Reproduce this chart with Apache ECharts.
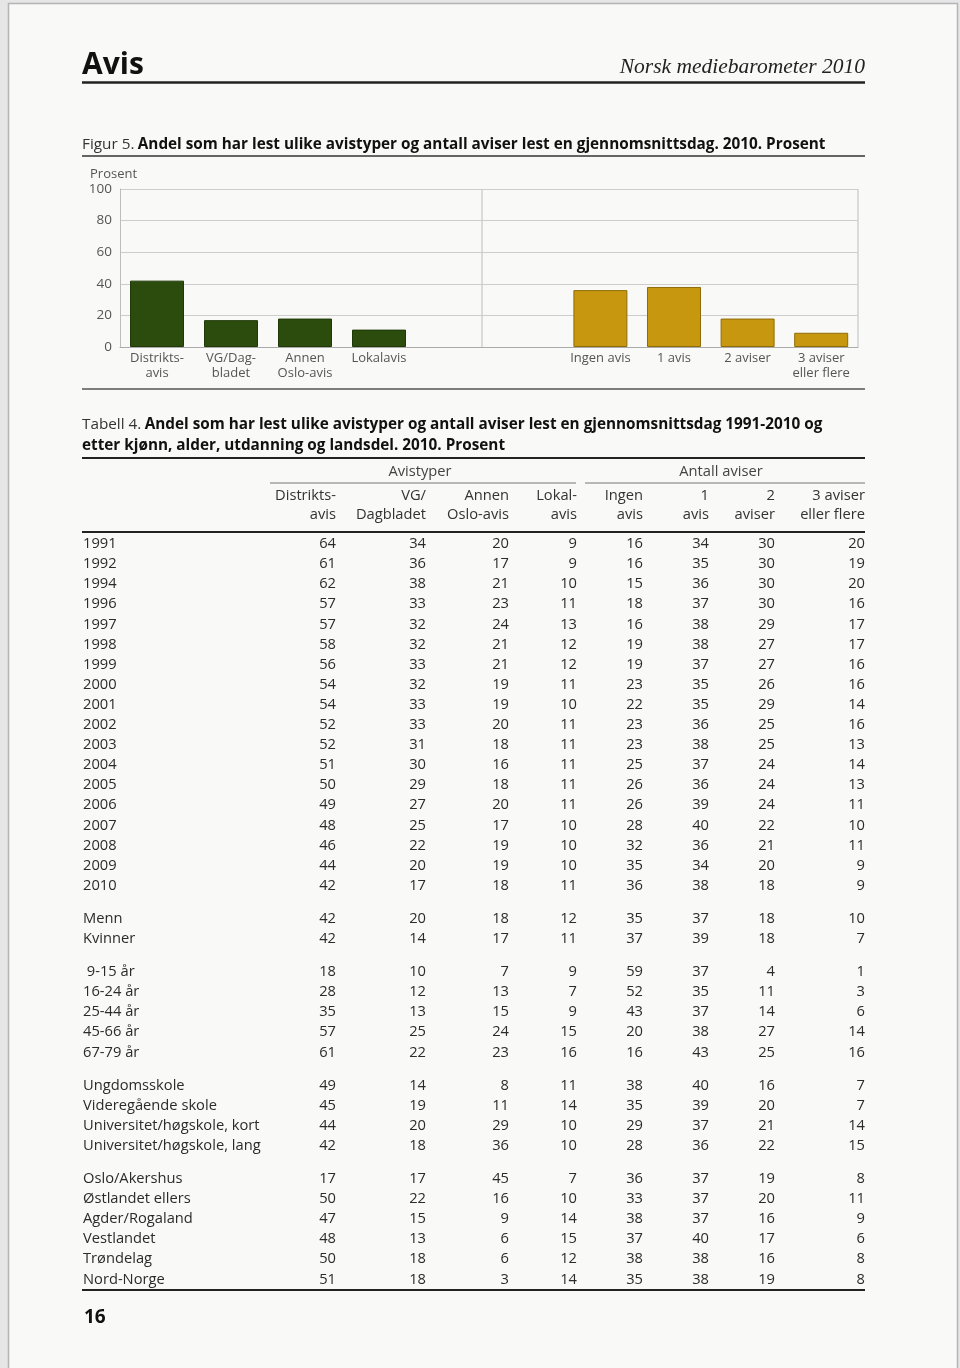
<!DOCTYPE html>
<html><head><meta charset="utf-8">
<script src="https://cdn.jsdelivr.net/npm/echarts@6/dist/echarts.min.js"></script>
<style>html,body{margin:0;padding:0;background:#e6e6e6}#c{width:960px;height:1368px}</style>
</head><body><div id="c"></div>
<script>
// ---- Figure 5 data (2010) ----
const typeCategories = ['Distrikts-\navis', 'VG/Dag-\nbladet', 'Annen\nOslo-avis', 'Lokalavis'];
const typeValues = [42, 17, 18, 11];
const countCategories = ['Ingen avis', '1 avis', '2 aviser', '3 aviser\neller flere'];
const countValues = [36, 38, 18, 9];
const yTicks = [0, 20, 40, 60, 80, 100];

// ---- Tabell 4 data ----
const colHead1 = ['Distrikts-', 'VG/', 'Annen', 'Lokal-', 'Ingen', '1', '2', '3 aviser'];
const colHead2 = ['avis', 'Dagbladet', 'Oslo-avis', 'avis', 'avis', 'avis', 'aviser', 'eller flere'];
const rowLabels = ['1991','1992','1994','1996','1997','1998','1999','2000','2001','2002','2003','2004','2005','2006','2007','2008','2009','2010',
  'Menn','Kvinner',
  ' 9-15 år','16-24 år','25-44 år','45-66 år','67-79 år',
  'Ungdomsskole','Videregående skole','Universitet/høgskole, kort','Universitet/høgskole, lang',
  'Oslo/Akershus','Østlandet ellers','Agder/Rogaland','Vestlandet','Trøndelag','Nord-Norge'];
const groupSizes = [18, 2, 5, 4, 6];
const colDistrikts = [64,61,62,57,57,58,56,54,54,52,52,51,50,49,48,46,44,42, 42,42, 18,28,35,57,61, 49,45,44,42, 17,50,47,48,50,51];
const colVG        = [34,36,38,33,32,32,33,32,33,33,31,30,29,27,25,22,20,17, 20,14, 10,12,13,25,22, 14,19,20,18, 17,22,15,13,18,18];
const colAnnen     = [20,17,21,23,24,21,21,19,19,20,18,16,18,20,17,19,19,18, 18,17, 7,13,15,24,23, 8,11,29,36, 45,16,9,6,6,3];
const colLokal     = [9,9,10,11,13,12,12,11,10,11,11,11,11,11,10,10,10,11, 12,11, 9,7,9,15,16, 11,14,10,10, 7,10,14,15,12,14];
const colIngen     = [16,16,15,18,16,19,19,23,22,23,23,25,26,26,28,32,35,36, 35,37, 59,52,43,20,16, 38,35,29,28, 36,33,38,37,38,35];
const colEn        = [34,35,36,37,38,38,37,35,35,36,38,37,36,39,40,36,34,38, 37,39, 37,35,37,38,43, 40,39,37,36, 37,37,37,40,38,38];
const colTo        = [30,30,30,30,29,27,27,26,29,25,25,24,24,24,22,21,20,18, 18,18, 4,11,14,27,25, 16,20,21,22, 19,20,16,17,16,19];
const colTre       = [20,19,20,16,17,17,16,16,14,16,13,14,13,11,10,11,9,9, 10,7, 1,3,6,14,16, 7,7,14,15, 8,11,9,6,8,8];

const FONT = '"Open Sans", "DejaVu Sans", sans-serif';
const TXT = '#2b2b2b';
const BODY = 14.7;
const g = [];
// page sheet
g.push({ type: 'rect', silent: true, z: 0, shape: { x: 8.5, y: 3.5, width: 949, height: 1370 },
  style: { fill: '#f9f9f8', stroke: '#b5b5b5', lineWidth: 1.5 } });
function text(t, x, y, o) {
  o = o || {};
  g.push({ type: 'text', silent: true, z: 10, style: Object.assign({
    text: t, x: x, y: y, fontFamily: FONT, fontSize: BODY, fill: TXT,
    align: o.align || 'left', textAlign: o.align || 'left',
    verticalAlign: 'middle', textVerticalAlign: 'middle'
  }, o.style || {}) });
}
function hline(x1, x2, y, w, c) {
  g.push({ type: 'line', silent: true, z: 5, shape: { x1: x1, y1: y, x2: x2, y2: y }, style: { stroke: c || '#333', lineWidth: w || 1 } });
}
function vline(x, y1, y2, w, c) {
  g.push({ type: 'line', silent: true, z: 5, shape: { x1: x, y1: y1, x2: x, y2: y2 }, style: { stroke: c || '#333', lineWidth: w || 1 } });
}

// page header
text('Avis', 82, 65, { style: { fontSize: 30, fontWeight: 'bold', fill: '#111' } });
text('Norsk mediebarometer 2010', 865, 67, { align: 'right', style: { fontFamily: '"Liberation Serif", serif', fontStyle: 'italic', fontSize: 21.5, fill: '#222' } });
hline(82, 865, 82.5, 2.5, '#222');

// figure title
const richTitle = { a: { fontFamily: FONT, fontSize: 15.3, fill: '#333', color: '#333', lineHeight: 21 },
                    b: { fontFamily: FONT, fontSize: 15.3, fontWeight: 'bold', fill: '#111', color: '#111', lineHeight: 21 } };
g.push({ type: 'text', silent: true, z: 10, style: {
  text: '{a|Figur 5.} {b|Andel som har lest ulike avistyper og antall aviser lest en gjennomsnittsdag. 2010. Prosent}',
  x: 82, y: 145, align: 'left', textAlign: 'left', verticalAlign: 'middle', textVerticalAlign: 'middle', rich: richTitle
}});
hline(82, 865, 156, 1.5, '#333');
text('Prosent', 90, 174, { style: { fontSize: 13, fill: '#555' } });

// chart frame extras
vline(482, 189, 347, 1, '#bdbdbd');
vline(858, 189, 347, 1, '#bdbdbd');
hline(82, 865, 389, 1.5, '#555');

// table title
g.push({ type: 'text', silent: true, z: 10, style: {
  text: '{a|Tabell 4.} {b|Andel som har lest ulike avistyper og antall aviser lest en gjennomsnittsdag 1991-2010 og}\n{b|etter kjønn, alder, utdanning og landsdel. 2010. Prosent}',
  x: 82, y: 414, align: 'left', textAlign: 'left', verticalAlign: 'top', textVerticalAlign: 'top', lineHeight: 21, rich: richTitle
}});
hline(82, 865, 458, 2, '#222');

// table header
text('Avistyper', 420, 472, { align: 'center', style: { fill: '#444' } });
text('Antall aviser', 721, 472, { align: 'center', style: { fill: '#444' } });
hline(270, 576, 483, 1, '#777');
hline(585, 865, 483, 1, '#777');
const colX = [336, 426, 509, 577, 643, 709, 775, 865];
colHead1.forEach((h, i) => text(h, colX[i], 496, { align: 'right', style: { fill: '#333' } }));
colHead2.forEach((h, i) => text(h, colX[i], 515, { align: 'right', style: { fill: '#333' } }));
hline(82, 865, 532, 2, '#222');

// table body
const cols = [colDistrikts, colVG, colAnnen, colLokal, colIngen, colEn, colTo, colTre];
const rowStep = 20.1, groupGap = 13;
let r = 0, y = 544;
groupSizes.forEach((n) => {
  for (let k = 0; k < n; k++, r++) {
    text(rowLabels[r], 83, y, {});
    cols.forEach((c, ci) => text(String(c[r]), colX[ci], y, { align: 'right' }));
    y += rowStep;
  }
  y += groupGap;
});
hline(82, 865, 1290, 2, '#222');
text('16', 84, 1318, { style: { fontSize: 19, fontWeight: 'bold', fill: '#111' } });

const axisLabelStyle = { color: '#555', fontSize: 13, fontFamily: FONT, lineHeight: 15, margin: 4 };
const chart = echarts.init(document.getElementById('c'), null, { renderer: 'canvas' });
chart.setOption({
  backgroundColor: '#e6e6e6',
  animation: false,
  grid: [
    { left: 120, top: 189, width: 370, height: 158, z: 5 },
    { left: 490, top: 189, width: 368, height: 158, z: 5 }
  ],
  xAxis: [
    { gridIndex: 0, type: 'category', data: typeCategories.concat(['']), axisTick: { show: false }, z: 5,
      axisLine: { lineStyle: { color: '#aaa' } }, axisLabel: Object.assign({ interval: 0 }, axisLabelStyle) },
    { gridIndex: 1, type: 'category', data: [''].concat(countCategories), axisTick: { show: false }, z: 5,
      axisLine: { lineStyle: { color: '#aaa' } }, axisLabel: Object.assign({ interval: 0 }, axisLabelStyle) }
  ],
  yAxis: [
    { gridIndex: 0, type: 'value', min: yTicks[0], max: yTicks[yTicks.length - 1], interval: 20, z: 5,
      axisLine: { show: true, lineStyle: { color: '#bdbdbd' } }, axisTick: { show: false },
      splitLine: { lineStyle: { color: '#cdcdcd' } },
      axisLabel: { color: '#555', fontSize: 13.5, fontFamily: FONT, margin: 8 } },
    { gridIndex: 1, type: 'value', min: yTicks[0], max: yTicks[yTicks.length - 1], interval: 20, z: 5,
      axisLine: { show: false }, axisTick: { show: false }, axisLabel: { show: false },
      splitLine: { lineStyle: { color: '#cdcdcd' } } }
  ],
  series: [
    { type: 'bar', xAxisIndex: 0, yAxisIndex: 0, data: typeValues, barWidth: 54, z: 6,
      itemStyle: { color: '#2c4c0e', borderColor: '#1f3a08', borderWidth: 1 } },
    { type: 'bar', xAxisIndex: 1, yAxisIndex: 1, data: [null].concat(countValues), barWidth: 54, z: 6,
      itemStyle: { color: '#c6970f', borderColor: '#8f6c08', borderWidth: 1 } }
  ],
  graphic: { elements: g }
});
</script></body></html>
